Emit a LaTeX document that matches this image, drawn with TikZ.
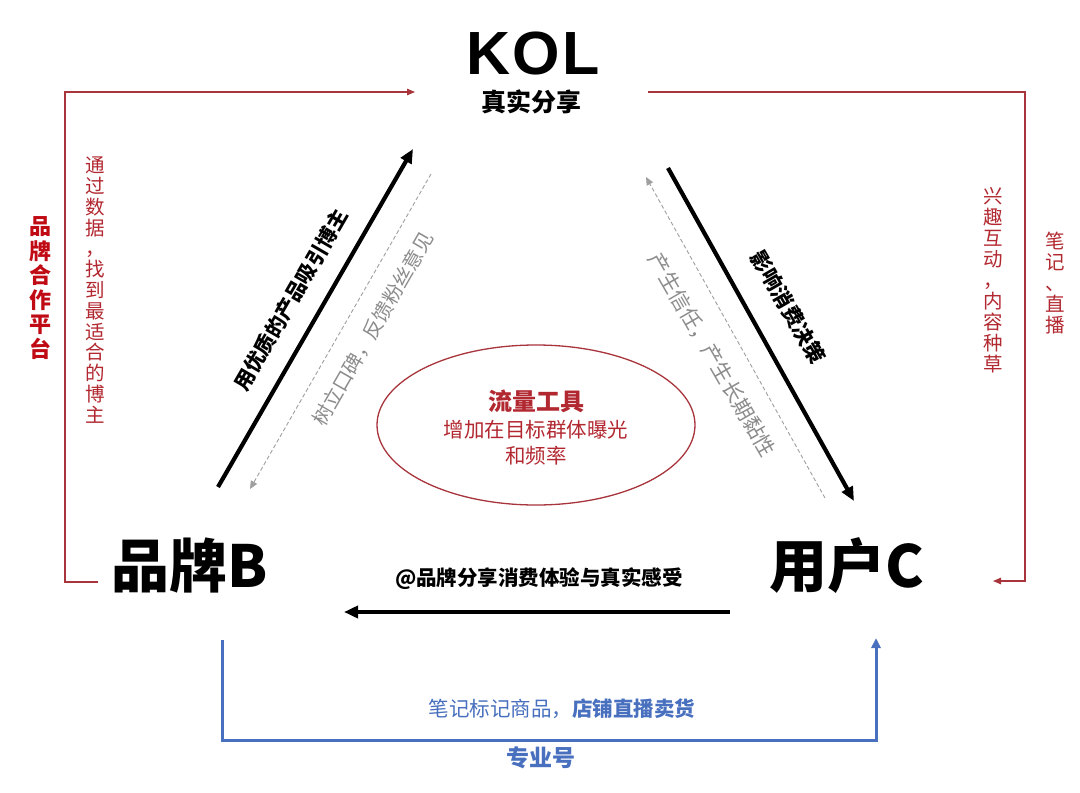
\documentclass[tikz,border=0pt]{standalone}
\usepackage{fontspec}
\setmainfont{Noto Sans CJK SC}
\newfontfamily\kolfont{Liberation Sans}
\usetikzlibrary{arrows.meta,shapes.geometric}
\definecolor{lred}{RGB}{168,52,60}
\definecolor{tred}{RGB}{178,40,48}
\definecolor{bred}{RGB}{192,10,20}
\definecolor{eblue}{RGB}{72,112,190}
\definecolor{tgray}{RGB}{140,140,140}
\newcommand\fsz[1]{\fontsize{#1}{#1}\selectfont}
\begin{document}
\begin{tikzpicture}[x=1pt,y=-1pt,
  blk/.style={line width=4.2pt,-{Triangle[length=14pt,width=12pt]}},
  gdash/.style={draw=gray!75,line width=0.9pt,dash pattern=on 4pt off 2.5pt,-{Triangle[length=8pt,width=7pt]}},
  redline/.style={draw=lred,line width=1.1pt,-{Triangle[length=8pt,width=6.5pt]}},
  blueline/.style={draw=eblue,line width=3pt,-{Triangle[length=10pt,width=9pt]}},
  vtext/.style={align=center,inner sep=0pt},
  every node/.style={inner sep=0pt}]
\useasboundingbox[fill=white] (0,0) rectangle (1080,793);

% main nodes
\node[font=\kolfont\bfseries\fsz{61}] (kol) at (533,53) {K\kern2pt O\kern2pt L};
\node[font=\bfseries\fsz{25}] (share) at (531,102) {真实分享};
\node[font=\bfseries\fsz{58}] (brand) at (190,566) {品牌B};
\node[font=\bfseries\fsz{58}] (user) at (847,566) {用户C};

% centre ellipse
\node[ellipse,draw=lred,line width=1.3pt,minimum width=318pt,minimum height=160pt] (tool) at (536,425) {};
\node[font=\bfseries\fsz{24},text=tred] (tool1) at (536,401) {流量工具};
\node[font=\fsz{20.5},text=tred] (tool2) at (536,430) {增加在目标群体曝光};
\node[font=\fsz{20.5},text=tred] (tool3) at (536,456) {和频率};

% left side arrows
\coordinate (bk1s) at (218,487); \coordinate (bk1e) at (413,149);
\draw[blk] (bk1s) -- (bk1e);
\node[font=\bfseries\fsz{20.5},rotate=60] (t1) at (291,300) {用优质的产品吸引博主};
\coordinate (gd1s) at (431,174); \coordinate (gd1e) at (250,489);
\draw[gdash] (gd1s) -- (gd1e);
\node[font=\fsz{20},text=tgray,rotate=60] (t2) at (373,329) {树立口碑，反馈粉丝意见};

% right side arrows
\coordinate (bk2s) at (668,168); \coordinate (bk2e) at (854,501);
\draw[blk] (bk2s) -- (bk2e);
\node[font=\bfseries\fsz{21},rotate=-60] (t3) at (788,307) {影响消费决策};
\coordinate (gd2s) at (825,498); \coordinate (gd2e) at (646,177);
\draw[gdash] (gd2s) -- (gd2e);
\node[font=\fsz{21},text=tgray,rotate=-60] (t4) at (712,355) {产生信任，产生长期黏性};

% bottom black arrow
\coordinate (bk3s) at (730,612); \coordinate (bk3e) at (344,612);
\draw[blk] (bk3s) -- (bk3e);
\node[font=\bfseries\fsz{20.5}] (t5) at (539,579) {@品牌分享消费体验与真实感受};

% left red loop
\coordinate (rl0) at (98,582); \coordinate (rl1) at (65,92); \coordinate (rl2) at (415,92);
\draw[redline] (rl0) -| (rl1) -- (rl2);
\node[vtext,font=\bfseries\fontsize{22}{24.5}\selectfont,text=bred] (t6) at (40,288) {品\\牌\\合\\作\\平\\台};
\node[vtext,font=\fontsize{19.5}{20.8}\selectfont,text=tred] (t7) at (95,290) {通\\过\\数\\据\\，\\找\\到\\最\\适\\合\\的\\博\\主};

% right red loop
\coordinate (rr0) at (648,92); \coordinate (rr1) at (1025,92); \coordinate (rr2) at (1025,581); \coordinate (rr3) at (993,581);
\draw[redline] (rr0) -- (rr1) -- (rr2) -- (rr3);
\node[vtext,font=\fontsize{19.5}{21}\selectfont,text=tred] (t8) at (993,280) {兴\\趣\\互\\动\\，\\内\\容\\种\\草};
\node[vtext,font=\fontsize{19.5}{21}\selectfont,text=tred] (t9) at (1055,283) {笔\\记\\、\\直\\播};

% bottom blue loop
\coordinate (bl0) at (222,640); \coordinate (bl1) at (222,740); \coordinate (bl2) at (876,740); \coordinate (bl3) at (876,638);
\draw[blueline] (bl0) -- (bl1) -- (bl2) -- (bl3);
\node[font=\fsz{20.5},text=eblue] (t10) at (562,709) {笔记标记商品，\textbf{店铺直播卖货}};
\node[font=\bfseries\fsz{23},text=eblue] (t11) at (541,758) {专业号};
\end{tikzpicture}
\end{document}
